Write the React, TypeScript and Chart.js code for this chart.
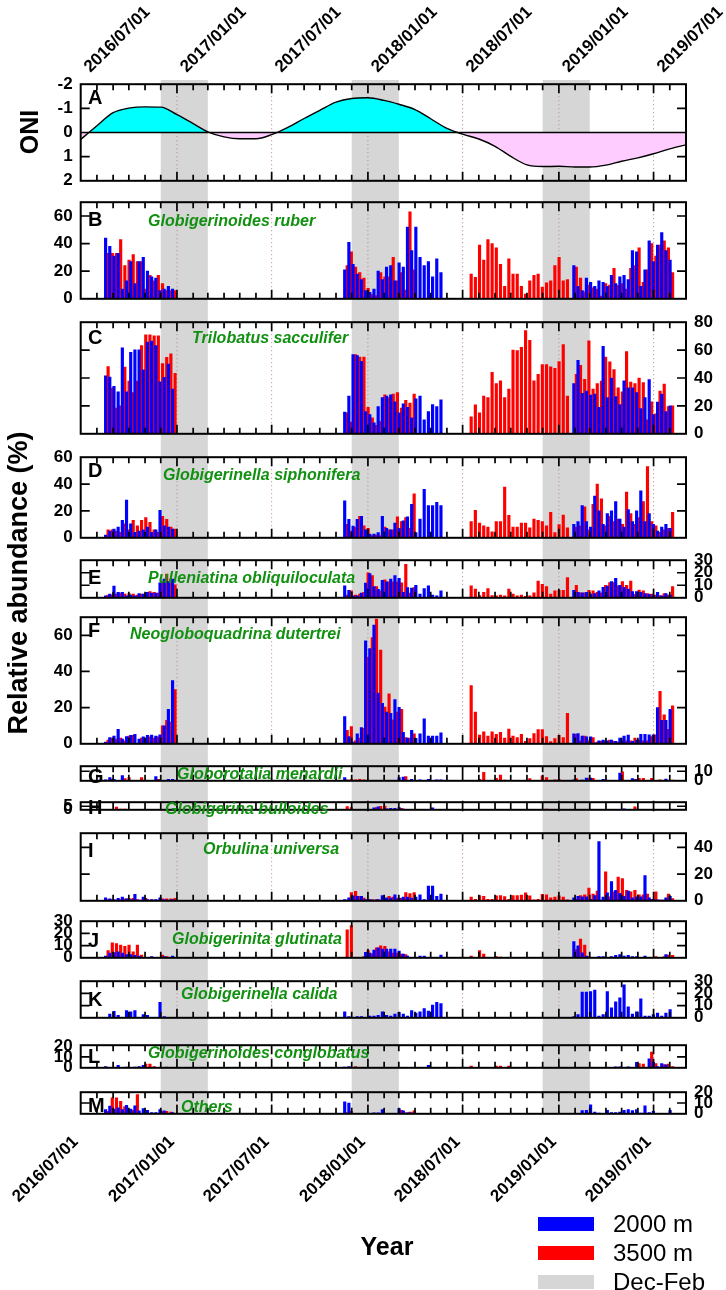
import React, { useEffect, useRef } from "react";
import { Chart, registerables } from "chart.js";

Chart.register(...registerables);

const FONT = "'Liberation Sans', Arial, Helvetica, sans-serif";
const GREEN = "#119011";
const BLUE = "#0000ff";
const RED = "#ff0000";
const GRAY = "#d6d6d6";
const W = 726;
const H = 1290;
const PLOT_LEFT = 80.7;
const PLOT_RIGHT = 686;
const AXIS_TOP = 80;
const AXIS_BOTTOM = 1113;
const PAD = 14;
const BAR_W = 2.5;

// ---------------- time axis ----------------
const axisStartDate = "2016-07-01";
const axisEndDate = "2019-09-01";
const halfYearLabels = ["2016/07/01", "2017/01/01", "2017/07/01", "2018/01/01", "2018/07/01", "2019/01/01", "2019/07/01"];
const decFebStart = ["2016-12-01", "2017-12-01", "2018-12-01"];
const decFebEnd = ["2017-03-01", "2018-03-01", "2019-03-01"];

// ---------------- sampling dates ----------------
const dep1Dates = ["2016-08-20", "2016-08-28", "2016-09-05", "2016-09-13", "2016-09-21", "2016-09-29", "2016-10-07", "2016-10-15", "2016-10-23", "2016-10-31", "2016-11-08", "2016-11-16", "2016-11-24", "2016-12-02", "2016-12-10", "2016-12-18", "2016-12-26"];
const dep2Dates = ["2017-11-20", "2017-11-28", "2017-12-06", "2017-12-14", "2017-12-22", "2017-12-30", "2018-01-07", "2018-01-15", "2018-01-23", "2018-01-31", "2018-02-08", "2018-02-16", "2018-02-24", "2018-03-04", "2018-03-12", "2018-03-20", "2018-03-28", "2018-04-05", "2018-04-13", "2018-04-21", "2018-04-29", "2018-05-07", "2018-05-15", "2018-05-23"];
const dep3aDates = ["2018-07-15", "2018-07-23", "2018-07-31", "2018-08-08", "2018-08-16", "2018-08-24", "2018-09-01", "2018-09-09", "2018-09-17", "2018-09-25", "2018-10-03", "2018-10-11", "2018-10-19", "2018-10-27", "2018-11-04", "2018-11-12", "2018-11-20", "2018-11-28", "2018-12-06", "2018-12-14", "2018-12-22", "2018-12-30", "2019-01-07", "2019-01-15"];
const dep3bDates = ["2019-02-01", "2019-02-09", "2019-02-17", "2019-02-25", "2019-03-05", "2019-03-13", "2019-03-21", "2019-03-29", "2019-04-06", "2019-04-14", "2019-04-22", "2019-04-30", "2019-05-08", "2019-05-16", "2019-05-24", "2019-06-01", "2019-06-09", "2019-06-17", "2019-06-25", "2019-07-03", "2019-07-11", "2019-07-19", "2019-07-27", "2019-08-04"];
const blueDates = [...dep1Dates, ...dep2Dates, ...dep3bDates];
const redDates = [...dep1Dates, ...dep2Dates.slice(0, 17), ...dep3aDates, ...dep3bDates];

// ---------------- ONI ----------------
const oniMonths = ["2016-07", "2016-08", "2016-09", "2016-10", "2016-11", "2016-12", "2017-01", "2017-02", "2017-03", "2017-04", "2017-05", "2017-06", "2017-07", "2017-08", "2017-09", "2017-10", "2017-11", "2017-12", "2018-01", "2018-02", "2018-03", "2018-04", "2018-05", "2018-06", "2018-07", "2018-08", "2018-09", "2018-10", "2018-11", "2018-12", "2019-01", "2019-02", "2019-03", "2019-04", "2019-05", "2019-06", "2019-07", "2019-08", "2019-09"];
const oniValues = [0.29, -0.28, -0.82, -1.01, -1.06, -1.05, -0.74, -0.37, -0.03, 0.18, 0.26, 0.26, 0.09, -0.21, -0.58, -0.92, -1.26, -1.41, -1.44, -1.33, -1.17, -0.95, -0.57, -0.17, 0.07, 0.27, 0.57, 0.99, 1.34, 1.41, 1.4, 1.43, 1.43, 1.35, 1.19, 1.05, 0.88, 0.68, 0.51];

// ---------------- relative abundance (%) : 2000 m (blueDates) / 3500 m (redDates) ----------------
const ruber2000 = [
  44, 38, 31, 33, 7, 13, 27, 11, 27, 30, 20, 16, 15, 6, 7, 9, 7,
  21, 41, 25, 18, 14, 6, 4.7, 7, 20, 14, 23, 24, 13, 26, 23, 52, 35, 52, 30, 24, 27, 16, 29, 19,
  24, 9, 6, 15, 12, 9, 13, 12, 9, 17, 11, 16, 17, 14, 35, 34, 9, 21, 42, 27, 39, 48, 35, 28];
const ruber3500 = [
  33, 33, 33, 43, 24, 28, 32, 27, 27, 7, 17, 13, 17, 11, 6, 6, 6,
  24, 34, 23, 19, 15, 7.5, 3, 2.4, 19, 16, 16, 30, 13, 19, 6.4, 63, 21,
  18, 15.5, 39, 28, 43, 40, 37, 25, 9, 29, 18, 18, 9, 3.5, 13, 17, 18, 8.5, 11.5, 13, 24, 30, 13, 14,
  23, 15, 5, 10, 8, 7, 2, 11, 10, 22, 9.5, 11, 7, 22, 24, 37, 12, 21, 40, 31, 39, 42, 37, 19];

const sacculifer2000 = [
  41.6, 40.7, 34, 30, 61.6, 30, 58.4, 60.2, 60.2, 45.8, 65.8, 66.4, 63.3, 37.3, 40.4, 50, 32,
  15.5, 27, 56.7, 56, 52, 16, 13.8, 7.8, 19.5, 26, 27, 28, 23, 15, 21.5, 19, 11.5, 25, 27, 10, 16, 21, 19.5, 24.4,
  36, 52.7, 29, 30.7, 27.8, 28.4, 19, 62.7, 26, 40, 26.7, 21, 38, 33, 33, 29.6, 18, 26, 38.9, 13.8, 22.7, 28.4, 16, 20];
const sacculifer3500 = [
  48.2, 32.7, 18.4, 20, 47.8, 37.8, 29.6, 37.8, 63.3, 70.9, 70.9, 70.2, 70.2, 50.4, 54.9, 57.3, 43.3,
  15, 8.4, 56.7, 55, 55, 19, 11.5, 6, 9, 28, 26, 28.4, 29.5, 18.4, 24, 22, 28.4,
  12.2, 20.7, 15, 27, 26, 44, 36, 38, 26, 32, 60, 59.6, 62, 74, 67, 38, 42.7, 49.6, 49.6, 48, 47, 51.8, 64, 27,
  42.7, 49, 39, 66.7, 32, 36, 37.8, 55, 51.6, 46, 33, 30, 59, 37, 36, 40, 36.7, 10, 23, 14.4, 30.7, 35.6, 19.6, 20];

const siphonifera2000 = [
  2, 5, 6.4, 8, 13, 28, 10.4, 4, 5, 6, 8, 4, 6, 20.4, 9, 8, 6.4,
  27.5, 13.8, 8.7, 13.8, 16, 6, 2.7, 2.7, 3.8, 16, 7, 6, 11, 7, 12.7, 15.6, 25, 3.8, 14, 36, 24, 24, 26.4, 24,
  10, 12, 24, 12, 8, 31, 20, 10, 18, 20, 27, 14, 8, 21, 12, 20, 35, 12, 18, 10, 5, 8, 10, 7];
const siphonifera3500 = [
  6, 6, 5, 4, 10.4, 6, 13, 9, 13, 15, 11.5, 6, 4, 16, 13.8, 8, 6.4,
  10, 5, 7.8, 16, 9, 7, 1.6, 2, 1.6, 8, 6, 6, 15.6, 12, 15, 7, 32.7,
  12, 20.4, 11, 9, 8, 4.4, 12, 12, 37.8, 16.7, 8, 8, 11, 11, 7.5, 14, 13, 12, 9, 19, 3.8, 9.8, 17, 7.5,
  8, 9, 23, 6, 25, 40, 29, 9, 16, 12, 14, 10, 34, 18, 10, 15, 27, 53, 12, 9, 4, 6, 7, 19];

const obliquiloculata2000 = [
  1.5, 3, 9.3, 4.4, 4.4, 1.5, 2.2, 1.5, 3.3, 3, 4.4, 3.8, 3.8, 12, 15, 13, 15,
  9.5, 6, 1.5, 1.5, 3.8, 11.8, 19.3, 8.9, 6.7, 14, 12.7, 15, 17.8, 15.6, 4.4, 8.2, 7.8, 10, 3, 7.3, 9.5, 2.2, 1.5, 5.5,
  6, 4.4, 4, 4.4, 2.9, 3.3, 5.5, 8.4, 9.3, 12.9, 15.6, 10, 8.4, 7, 4.9, 4.9, 4.4, 3.3, 2.7, 2.2, 4.4, 1.5, 3.3, 2.2];
const obliquiloculata3500 = [
  2.2, 2.2, 3, 3.8, 3, 3.3, 3, 2.2, 3, 3.3, 5, 4.4, 3.8, 13, 19, 15, 10.4,
  2.2, 5.5, 2.2, 3, 4.4, 20, 17.8, 8.9, 5.5, 14.4, 12.7, 12.7, 12.7, 12, 26.7, 3.8, 8.2,
  9.5, 7, 1.8, 4.4, 7.3, 1.8, 1.5, 2.2, 1.5, 7, 2.9, 1.5, 2.2, 1.1, 1.5, 4, 13.3, 10.7, 8.9, 2.9, 5.5, 6, 6, 16.2,
  10, 4, 4, 6, 5.5, 4.4, 4, 10, 12.2, 12.2, 9.5, 12.9, 10, 13.3, 2.7, 6.2, 5.5, 3.3, 2.9, 2.2, 1.8, 3.3, 2.2, 8.9];

const dutertrei2000 = [
  0.9, 3.4, 4.3, 8, 2.6, 4, 4.7, 5.2, 2.6, 3.8, 4.7, 4.8, 4.3, 5, 10, 19, 35,
  15, 4, 1, 5.5, 9, 57, 52.6, 65.6, 28, 22.4, 17.6, 16.9, 24.5, 20.2, 6.4, 3.1, 7.4, 3, 5.5, 13.8, 4.3, 4.3, 4.3, 6,
  5.5, 5.7, 4.3, 3.8, 3.8, 0.5, 1.7, 2, 1.7, 2, 1.4, 3.1, 4.3, 4.8, 1.4, 2, 5.2, 5.2, 5, 5, 20, 13, 13, 19];
const dutertrei3500 = [
  2, 3.1, 2.6, 3.1, 1.7, 4.3, 4.7, 0.3, 3.1, 3.1, 3.8, 3.1, 3.8, 10, 13, 12, 30,
  7.4, 9.5, 1.7, 3.1, 8.6, 48, 58.7, 69, 51.8, 20.3, 27.6, 13.3, 17.6, 19, 3.4, 3.1, 5.5,
  32.2, 17.6, 4.8, 6.6, 4.3, 6.6, 5.2, 6.4, 3.1, 8.1, 4.3, 3.4, 5.2, 1.4, 2.9, 5.7, 7.8, 7.8, 4, 1.2, 2.9, 4.7, 3.4, 16.9,
  5.2, 1.7, 4.3, 1.7, 3.4, 0.9, 1.4, 1.4, 2, 1.4, 0.9, 1.7, 1.7, 1.7, 3.1, 2, 1.7, 1.7, 4, 5, 29, 16, 8, 21];

const menardii2000 = [
  1, 3.3, 1.5, 0, 5.5, 0, 0, 0, 0, 0, 0, 0, 4.4, 0, 0, 1.5, 1.5,
  3.3, 0, 0.5, 0, 0, 0.5, 0.5, 0.5, 0.5, 0.5, 0.5, 0.5, 0.5, 3.3, 3.8, 0.5, 1.5, 0, 1, 0, 1.5, 0, 1, 1,
  1, 0, 0.7, 2.9, 2.9, 0, 0, 1.5, 0, 0, 0, 8.2, 0, 0, 2.2, 1.5, 0, 0, 0, 0, 0, 0, 1.8, 0];
const menardii3500 = [
  0, 1.8, 0, 0, 2.2, 3.3, 0, 0, 3.3, 0, 0, 0, 1.5, 0, 0, 0, 0,
  1, 1.5, 1, 1.5, 1, 0.5, 0.5, 0.5, 0.5, 0.5, 0.5, 0.5, 0.5, 0.5, 4.4, 0.5, 0,
  0, 0, 1.5, 8.9, 0, 0, 2.7, 6, 0.7, 0.5, 0, 0, 0, 0, 2.2, 0, 0, 5.1, 3.3, 0, 1, 1.5, 0, 0,
  2.2, 0, 0, 2.9, 2.7, 0, 0, 1, 0, 0, 0, 9.3, 0, 0, 1.5, 2.7, 2.7, 0, 2.7, 0, 1, 0, 0, 0.7];

const bulloides2000 = [
  0, 0, 0, 0, 0, 0, 0, 0, 0, 0, 0, 0, 0, 0, 0, 0, 0,
  0, 0, 0, 0, 0, 0, 0, 2.7, 4.2, 0, 1.5, 2, 2, 3.1, 1.1, 0, 0, 0, 0, 0, 0, 2.7, 0, 0,
  0, 0, 0, 0, 0, 0, 0, 0, 0, 0, 0, 0, 1.5, 0, 0, 0, 0, 0, 0, 0, 0, 0, 0, 0];
const bulloides3500 = [
  0, 0, 3.8, 1.1, 0.9, 0.7, 0, 0, 0, 0, 0, 0, 0, 0, 0, 0, 0,
  4.4, 3.3, 0, 0, 0, 0, 0, 3.3, 4.9, 5.3, 1, 0, 0, 2.2, 0.5, 0, 0,
  0, 0, 0, 0, 0, 0, 0, 0, 0, 0, 0, 0, 0, 0, 0, 0, 0, 0, 1, 0, 0, 0, 0, 0,
  0, 0, 0, 0, 0, 0, 0, 0, 0, 0, 0, 0, 0, 0, 4.2, 0, 0, 0, 0, 0, 0, 0, 0, 0];

const universa2000 = [
  2.2, 1.5, 1, 1.8, 2.7, 1.5, 1, 4.9, 0.5, 2.7, 1, 1, 1, 2.2, 1, 0.5, 1,
  1, 2.2, 3.8, 3.3, 3.3, 1, 1, 0.5, 1, 4, 2.2, 2, 4.4, 2, 2.7, 2.7, 2, 2.7, 4.4, 1, 11, 11, 3.3, 5.1,
  2.2, 3.3, 2.9, 2.9, 1.1, 4, 44.4, 2.7, 6, 14.4, 7.8, 5.6, 3.3, 7.3, 2.2, 2.9, 2.9, 18.9, 2.2, 1.1, 0.7, 0.5, 2.2, 3.3];
const universa3500 = [
  1, 1, 0.5, 1, 1.5, 1.8, 1.8, 1, 0.5, 1.8, 0.5, 0.5, 0.5, 1.5, 1.5, 1.5, 1.8,
  0.5, 6.2, 7.1, 3.3, 2, 1, 1, 1, 0.5, 1.8, 3.3, 2.7, 1.8, 1.8, 6.2, 5.5, 6.2,
  2.7, 1.1, 4, 3.3, 1.1, 1.1, 3.8, 4, 3.1, 1.1, 4, 4, 4.2, 6, 3.8, 0.7, 1.1, 4.9, 4.4, 2.2, 2.7, 3.8, 2.7, 0.7,
  1.1, 4, 4.4, 9.6, 5.1, 7.3, 0.5, 21.8, 2.9, 6.7, 17.8, 16.7, 7.8, 6.7, 7.8, 4.4, 4.4, 5.1, 1.1, 6.7, 0.5, 0.5, 5.1, 1.6];

const glutinata2000 = [
  1.5, 3.8, 4.2, 4.9, 3.8, 2.7, 2.7, 2, 1.5, 0, 0, 1, 0, 0, 1, 0, 1.5,
  0, 0, 0, 0, 0, 4.4, 3.8, 6.4, 8.2, 7.1, 7.1, 7.1, 7.1, 5.5, 3.1, 1.5, 0, 0, 1.5, 1.5, 0, 0, 0, 2.2,
  13.3, 9.8, 4, 1.5, 0, 0, 1, 1, 0, 1, 2, 2.7, 1.5, 2, 1, 1, 0, 1.5, 0, 0, 0, 0, 2.7, 0];
const glutinata3500 = [
  6, 12.2, 11.6, 10.4, 9.3, 10.4, 4.9, 10.4, 2.2, 0, 0, 0, 0, 2.2, 1, 0, 0,
  23, 26.4, 0, 0, 1, 6, 3.3, 8.2, 9.8, 9.3, 4.9, 3.8, 3.8, 3.1, 2.7, 0, 0,
  1.5, 0, 6, 3.1, 0, 0, 1.1, 0.5, 0, 0, 0, 0, 0, 0, 0, 0, 0, 0, 0, 0, 0, 0, 0, 0,
  6.7, 15.3, 10.4, 1, 0, 0, 0, 0, 0, 0, 0, 0, 0, 0, 0, 0, 0, 0, 0, 1, 0, 1, 2.2, 2];

const calida2000 = [
  0, 3.1, 5.3, 2, 0, 6, 4.9, 6, 0, 2.7, 2, 0, 0, 12.7, 0.9, 0, 0,
  4.9, 1, 0, 1, 1, 0, 1.5, 1.5, 2, 4.9, 2, 1.5, 3.1, 4.4, 3.1, 1.5, 6, 3.8, 4.9, 7.6, 5.6, 10.4, 12.7, 11.6,
  0.9, 2.7, 21, 21, 21.5, 22.7, 1.5, 2.7, 21.5, 8.2, 13.1, 16.4, 27, 8.9, 3.1, 4.9, 15.6, 1.5, 1.5, 2.7, 3.8, 1.5, 3.8, 6.7];
const calida3500 = [
  0, 0, 0, 0, 0, 0, 0, 0, 0, 0, 0, 0, 0, 0, 0, 0, 0,
  0, 0, 0, 0, 0, 0, 0, 0, 0, 0, 0, 0, 0, 0, 0, 0, 0,
  0, 0, 0, 0, 0, 0, 0, 0, 0, 0, 0, 0, 0, 0, 0, 0, 0, 0, 0, 0, 0, 0, 0, 0,
  0, 0, 0, 0, 0, 0, 0, 0, 0, 0, 0, 0, 0, 0, 0, 0, 0, 0, 0, 0, 0, 0, 0, 0];

const conglobatus2000 = [
  1.1, 0, 0, 2.2, 0, 0.7, 0, 0.7, 1.1, 2.2, 0, 0, 0, 0, 0, 0, 0,
  0.7, 1.1, 0, 0, 0, 0, 0, 0, 0, 0, 0, 0, 0, 0, 0, 0, 0, 0, 0, 0, 2.2, 0, 0, 0,
  0, 0, 0, 0, 0, 0, 0, 0, 0, 0, 1, 1, 0, 1, 0, 5.1, 0, 0, 8.2, 4.9, 1.1, 3.8, 2.7, 0];
const conglobatus3500 = [
  0, 0, 0, 0, 0, 0, 0, 0, 0, 3.3, 3.3, 1.1, 0, 0, 0.7, 0, 0,
  0, 0, 1.1, 0, 0, 0, 0, 0, 0, 0, 0, 0, 0, 0, 0, 0, 0,
  1.6, 0, 0, 0, 0, 0, 1.6, 1.6, 0, 1.6, 0, 0, 0, 0, 0, 0, 0, 0, 0, 0, 0, 0, 0, 0,
  0, 0, 0, 0, 0, 0, 0, 0, 0, 0, 0, 0, 0, 0, 0, 3.8, 3.3, 0, 14.4, 3.8, 0, 2.9, 3.3, 1.1];

const others2000 = [
  4, 7.1, 4.4, 5.6, 4, 7.8, 4.4, 7.3, 2.7, 4.9, 3.3, 1.1, 1.1, 4, 2.7, 0, 1.1,
  11.1, 10, 0, 0, 0, 0, 0, 1, 1, 4, 0, 0, 0, 4.9, 2.7, 1, 1, 0, 0, 0, 0, 0, 0, 0,
  0, 0, 2.9, 3.3, 8.2, 1.6, 0.7, 0, 3.3, 1.1, 1.1, 1.6, 3.3, 3.8, 2.9, 3.8, 0.7, 7.3, 1.1, 2.2, 0.5, 0.5, 0.5, 3.3];
const others3500 = [
  2.2, 14.9, 14.9, 11.6, 6.7, 1.5, 3.3, 17.8, 0, 0, 0, 0, 0, 2.2, 2.2, 1.6, 0,
  1.1, 2.2, 0, 0, 0.5, 0, 0, 0, 0, 0.5, 0, 0, 0, 3.3, 1, 1.6, 2.7,
  0, 0, 0, 0, 0, 0, 0, 0, 0, 0, 0, 0, 0, 0, 0, 0, 0, 0, 0, 0, 0, 0, 0, 0,
  0, 0, 0, 1, 0, 0, 0, 0, 0, 0, 0, 0, 0, 0, 0, 0, 0, 0, 0, 0, 0, 0, 0, 0];

// ---------------- helpers ----------------
const ORIGIN = (() => {
  const p = axisStartDate.split("-").map(Number);
  return Date.UTC(p[0], p[1] - 1, p[2]);
})();
function dayOf(s: string): number {
  const p = s.split(/[-/]/).map(Number);
  return Math.round((Date.UTC(p[0], p[1] - 1, p[2] || 1) - ORIGIN) / 86400000);
}
const X_MAX = dayOf(axisEndDate);
const halfYearDays = halfYearLabels.map(dayOf);
const halfYearSet = new Set(halfYearDays);
const monthDays: number[] = [];
{
  const s = new Date(ORIGIN);
  let y = s.getUTCFullYear();
  let m = s.getUTCMonth();
  while (true) {
    const d = Math.round((Date.UTC(y, m, 1) - ORIGIN) / 86400000);
    if (d > X_MAX) break;
    monthDays.push(d);
    m++;
    if (m > 11) { m = 0; y++; }
  }
}
function points(dates: string[], values: number[]) {
  return dates.map((d, i) => ({ x: dayOf(d), y: values[i] })).filter((p) => p.y > 0);
}

type PanelDef = {
  id: string; name: string; top: number; bottom: number; max: number; side: "left" | "right";
  labels: number[]; inner: number[]; v2000: number[]; v3500: number[];
  letterY: number; nameX: number; nameY: number;
};

const panels: PanelDef[] = [
  { id: "B", name: "Globigerinoides ruber", top: 198, bottom: 303, max: 70, side: "left", labels: [0, 20, 40, 60], inner: [20, 40, 60], v2000: ruber2000, v3500: ruber3500, letterY: 218.5, nameX: 148, nameY: 220 },
  { id: "C", name: "Trilobatus sacculifer", top: 318, bottom: 438, max: 80, side: "right", labels: [0, 20, 40, 60, 80], inner: [20, 40, 60], v2000: sacculifer2000, v3500: sacculifer3500, letterY: 336.5, nameX: 192, nameY: 337 },
  { id: "D", name: "Globigerinella siphonifera", top: 453, bottom: 542, max: 60, side: "left", labels: [0, 20, 40, 60], inner: [20, 40], v2000: siphonifera2000, v3500: siphonifera3500, letterY: 469.5, nameX: 163, nameY: 474 },
  { id: "E", name: "Pulleniatina obliquiloculata", top: 556, bottom: 602, max: 30, side: "right", labels: [0, 10, 20, 30], inner: [10, 20], v2000: obliquiloculata2000, v3500: obliquiloculata3500, letterY: 576.5, nameX: 148, nameY: 577 },
  { id: "F", name: "Neogloboquadrina dutertrei", top: 613, bottom: 748, max: 70, side: "left", labels: [0, 20, 40, 60], inner: [20, 40, 60], v2000: dutertrei2000, v3500: dutertrei3500, letterY: 630, nameX: 130, nameY: 633 },
  { id: "G", name: "Globorotalia menardii", top: 762, bottom: 785, max: 15.3, side: "right", labels: [0, 10], inner: [10], v2000: menardii2000, v3500: menardii3500, letterY: 775.5, nameX: 177, nameY: 773 },
  { id: "H", name: "Globigerina bulloides", top: 798, bottom: 814, max: 10.7, side: "left", labels: [0, 5], inner: [5], v2000: bulloides2000, v3500: bulloides3500, letterY: 807, nameX: 165, nameY: 808 },
  { id: "I", name: "Orbulina universa", top: 829, bottom: 905, max: 50.7, side: "right", labels: [0, 20, 40], inner: [20, 40], v2000: universa2000, v3500: universa3500, letterY: 850, nameX: 203, nameY: 848 },
  { id: "J", name: "Globigerinita glutinata", top: 917, bottom: 962, max: 30, side: "left", labels: [0, 10, 20, 30], inner: [10, 20], v2000: glutinata2000, v3500: glutinata3500, letterY: 939.5, nameX: 172, nameY: 938 },
  { id: "K", name: "Globigerinella calida", top: 977, bottom: 1022, max: 30, side: "right", labels: [0, 10, 20, 30], inner: [10, 20], v2000: calida2000, v3500: calida3500, letterY: 999, nameX: 181, nameY: 993 },
  { id: "L", name: "Globigerinoides conglobatus", top: 1041, bottom: 1072, max: 20.7, side: "left", labels: [0, 10, 20], inner: [10], v2000: conglobatus2000, v3500: conglobatus3500, letterY: 1055.5, nameX: 148, nameY: 1052 },
  { id: "M", name: "Others", top: 1088, bottom: 1118, max: 20, side: "right", labels: [0, 10, 20], inner: [10], v2000: others2000, v3500: others3500, letterY: 1105, nameX: 181, nameY: 1106 },
];

const oniPanel = { id: "A", top: 80, bottom: 185, side: "left" as const, labels: [-2, -1, 0, 1, 2], inner: [-1, 1], letterY: 96.5 };

// ---------------- plugins ----------------
const decorPlugin = {
  id: "decor",
  beforeDatasetsDraw(chart: any) {
    const { ctx, chartArea: a, scales } = chart;
    const x = scales.x;
    ctx.save();
    ctx.strokeStyle = "#b98080";
    ctx.lineWidth = 1;
    ctx.setLineDash([1, 3]);
    for (const d of halfYearDays) {
      const px = x.getPixelForValue(d);
      if (px <= a.left + 1 || px >= a.right - 1) continue;
      ctx.beginPath();
      ctx.moveTo(px, a.top);
      ctx.lineTo(px, a.bottom);
      ctx.stroke();
    }
    ctx.restore();
  },
  afterDatasetsDraw(chart: any, _args: any, opts: any) {
    const { ctx, chartArea: a, scales } = chart;
    const x = scales.x;
    const y = scales.y;
    ctx.save();
    ctx.strokeStyle = "#000";
    if (opts.zero) {
      const py = y.getPixelForValue(0);
      ctx.lineWidth = 1.5;
      ctx.beginPath();
      ctx.moveTo(a.left, py);
      ctx.lineTo(a.right, py);
      ctx.stroke();
    }
    ctx.lineWidth = 1.7;
    ctx.beginPath();
    for (const d of monthDays) {
      const px = x.getPixelForValue(d);
      if (px <= a.left + 1 || px >= a.right - 1) continue;
      const len = halfYearSet.has(d) ? 9 : 6;
      ctx.moveTo(px, a.top);
      ctx.lineTo(px, a.top + len);
      ctx.moveTo(px, a.bottom);
      ctx.lineTo(px, a.bottom - len);
    }
    for (const v of opts.inner || []) {
      const py = y.getPixelForValue(v);
      ctx.moveTo(a.left, py);
      ctx.lineTo(a.left + 9, py);
      ctx.moveTo(a.right, py);
      ctx.lineTo(a.right - 9, py);
    }
    ctx.stroke();
    ctx.lineWidth = 2;
    ctx.strokeRect(a.left, a.top, a.right - a.left, a.bottom - a.top);
    ctx.restore();
  },
};

const bandPlugin = {
  id: "bands",
  beforeDraw(chart: any) {
    const { ctx, chartArea: a, scales } = chart;
    const x = scales.xTop;
    ctx.save();
    ctx.fillStyle = GRAY;
    decFebStart.forEach((s, i) => {
      const x0 = x.getPixelForValue(dayOf(s));
      const x1 = x.getPixelForValue(dayOf(decFebEnd[i]));
      ctx.fillRect(x0, a.top, x1 - x0, a.bottom - a.top);
    });
    ctx.restore();
  },
};

const tickFont = { family: FONT, size: 17, weight: "bold" as const };

function panelOptions(p: { side: "left" | "right"; labels: number[]; inner: number[] }, y: { min: number; max: number; reverse: boolean }, zero: boolean): any {
  const leftSide = p.side === "left";
  return {
    animation: false,
    responsive: false,
    events: [],
    layout: { padding: { top: PAD, bottom: PAD, left: leftSide ? 0 : PLOT_LEFT, right: leftSide ? W - PLOT_RIGHT : 0 } },
    plugins: { legend: { display: false }, tooltip: { enabled: false }, decor: { inner: p.inner, zero } },
    scales: {
      x: { type: "linear", min: 0, max: X_MAX, display: false, offset: false, bounds: "data" },
      y: {
        type: "linear",
        position: p.side,
        min: y.min,
        max: y.max,
        reverse: y.reverse,
        bounds: "data",
        grid: { display: false, drawTicks: false },
        border: { display: false },
        afterBuildTicks: (s: any) => { s.ticks = p.labels.map((v) => ({ value: v })); },
        afterFit: (s: any) => { s.width = leftSide ? PLOT_LEFT : W - PLOT_RIGHT; },
        ticks: { autoSkip: false, padding: 8, color: "#000", font: tickFont, callback: (v: any) => String(v) },
      },
    },
  };
}

function BarPanel({ p }: { p: PanelDef }) {
  const ref = useRef<HTMLCanvasElement>(null);
  const h = p.bottom - p.top + 2 * PAD;
  useEffect(() => {
    const chart = new Chart(ref.current as HTMLCanvasElement, {
      type: "bar",
      data: {
        datasets: [
          { label: "2000 m", data: points(blueDates, p.v2000) as any, backgroundColor: BLUE, borderWidth: 0, barThickness: BAR_W },
          { label: "3500 m", data: points(redDates, p.v3500) as any, backgroundColor: RED, borderWidth: 0, barThickness: BAR_W },
        ],
      },
      options: panelOptions(p, { min: 0, max: p.max, reverse: false }, false),
      plugins: [decorPlugin as any],
    });
    return () => chart.destroy();
  }, [p]);
  return <canvas ref={ref} width={W} height={h} style={{ position: "absolute", left: 0, top: p.top - PAD, width: W, height: h }} />;
}

function OniPanel() {
  const ref = useRef<HTMLCanvasElement>(null);
  const h = oniPanel.bottom - oniPanel.top + 2 * PAD;
  useEffect(() => {
    const chart = new Chart(ref.current as HTMLCanvasElement, {
      type: "line",
      data: {
        datasets: [
          {
            label: "ONI",
            data: oniMonths.map((m, i) => ({ x: dayOf(m), y: oniValues[i] })) as any,
            borderColor: "#000",
            borderWidth: 1.4,
            pointRadius: 0,
            tension: 0.4,
            cubicInterpolationMode: "monotone",
            fill: { target: "origin", above: "#00ffff", below: "#ffccff" },
          },
        ],
      },
      options: panelOptions(oniPanel, { min: -2, max: 2, reverse: true }, true),
      plugins: [decorPlugin as any],
    });
    return () => chart.destroy();
  }, []);
  return <canvas ref={ref} width={W} height={h} style={{ position: "absolute", left: 0, top: oniPanel.top - PAD, width: W, height: h }} />;
}

function dateAxis(position: "top" | "bottom", size: number, padding: number, labelOffset: number): any {
  return {
    type: "linear",
    axis: "x",
    position,
    min: 0,
    max: X_MAX,
    bounds: "data",
    offset: false,
    grid: { display: false, drawTicks: false },
    border: { display: false },
    afterBuildTicks: (s: any) => { s.ticks = halfYearDays.map((v) => ({ value: v })); },
    afterFit: (s: any) => { s.height = size; },
    ticks: {
      autoSkip: false,
      minRotation: 45,
      maxRotation: 45,
      padding,
      labelOffset,
      color: "#000",
      font: tickFont,
      callback: (_v: any, i: number) => halfYearLabels[i],
    },
  };
}

function AxisLayer() {
  const ref = useRef<HTMLCanvasElement>(null);
  useEffect(() => {
    const chart = new Chart(ref.current as HTMLCanvasElement, {
      type: "scatter",
      data: { datasets: [] },
      options: {
        animation: false,
        responsive: false,
        events: [],
        layout: { padding: { left: PLOT_LEFT, right: W - PLOT_RIGHT, top: 0, bottom: 0 } },
        plugins: { legend: { display: false }, tooltip: { enabled: false } },
        scales: {
          xTop: dateAxis("top", AXIS_TOP, 3, 21),
          xBottom: dateAxis("bottom", H - AXIS_BOTTOM, 19, -5),
          y: { display: false, min: 0, max: 1 },
        },
      } as any,
      plugins: [bandPlugin as any],
    });
    return () => chart.destroy();
  }, []);
  return <canvas ref={ref} width={W} height={H} style={{ position: "absolute", left: 0, top: 0, width: W, height: H }} />;
}

const legendItems = [
  { label: "2000 m", color: BLUE, y: 1224 },
  { label: "3500 m", color: RED, y: 1253 },
  { label: "Dec-Feb", color: GRAY, y: 1282 },
];

export default function App() {
  const abs = (o: React.CSSProperties): React.CSSProperties => ({ position: "absolute", whiteSpace: "nowrap", fontFamily: FONT, ...o });
  return (
    <div style={{ position: "absolute", left: 0, top: 0, width: W, height: H, overflow: "hidden", background: "#fff" }}>
      <AxisLayer />
      <OniPanel />
      {panels.map((p) => <BarPanel key={p.id} p={p} />)}

      <div style={abs({ left: 88, top: oniPanel.letterY - 10, fontSize: 20, lineHeight: "20px", fontWeight: "bold" })}>A</div>
      {panels.map((p) => (
        <React.Fragment key={"t" + p.id}>
          <div style={abs({ left: 88, top: p.letterY - 10, fontSize: 20, lineHeight: "20px", fontWeight: "bold" })}>{p.id}</div>
          <div style={abs({ left: p.nameX, top: p.nameY - 8, fontSize: 16, lineHeight: "17px", fontWeight: "bold", fontStyle: "italic", color: GREEN })}>{p.name}</div>
        </React.Fragment>
      ))}

      <div style={abs({ left: 29 - 40, top: 132 - 14, width: 80, height: 28, lineHeight: "28px", textAlign: "center", fontSize: 25, fontWeight: "bold", transform: "rotate(-90deg)" })}>ONI</div>
      <div style={abs({ left: 18 - 200, top: 583 - 17, width: 400, height: 34, lineHeight: "34px", textAlign: "center", fontSize: 27, fontWeight: "bold", transform: "rotate(-90deg)" })}>Relative abundance (%)</div>
      <div style={abs({ left: 387 - 100, top: 1246 - 15, width: 200, height: 30, lineHeight: "30px", textAlign: "center", fontSize: 25, fontWeight: "bold" })}>Year</div>

      {legendItems.map((it) => (
        <React.Fragment key={it.label}>
          <div style={{ position: "absolute", left: 538, top: it.y - 7, width: 56, height: 14, background: it.color }} />
          <div style={abs({ left: 613, top: it.y - 14, height: 28, lineHeight: "28px", fontSize: 24 })}>{it.label}</div>
        </React.Fragment>
      ))}
    </div>
  );
}
